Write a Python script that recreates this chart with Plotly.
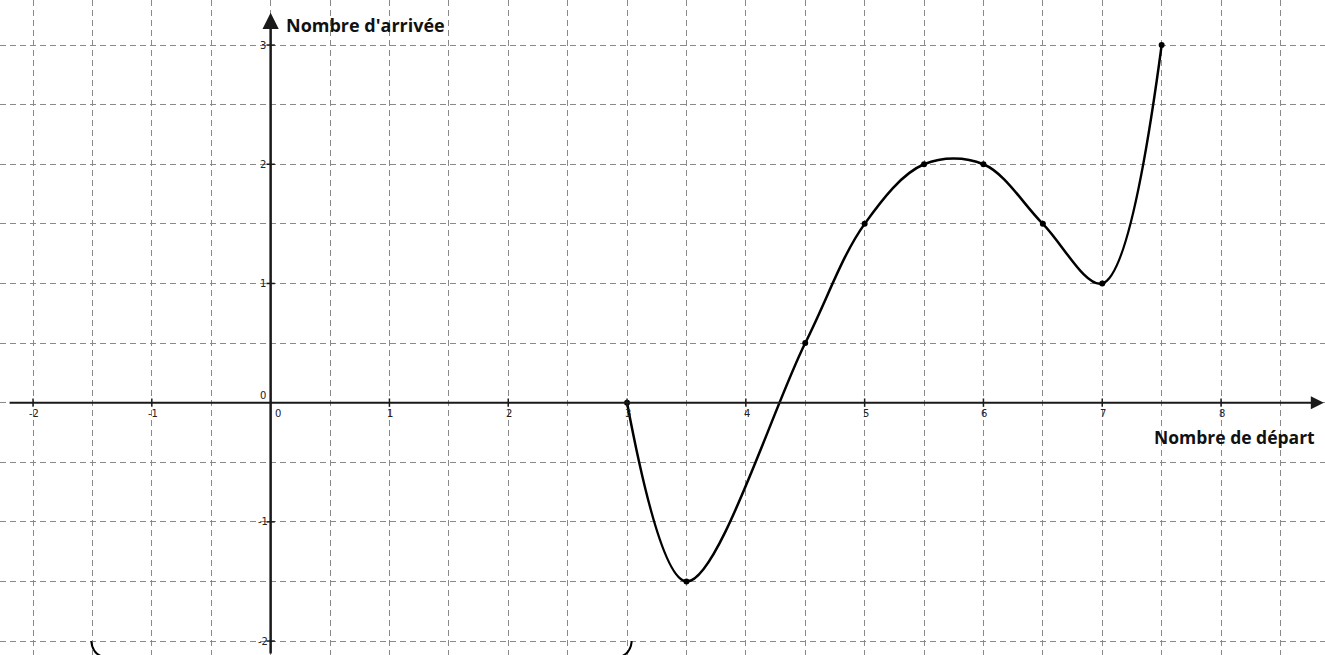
import plotly.graph_objects as go

# Data
x_pts = [3, 3.5, 4.5, 5, 5.5, 6, 6.5, 7, 7.5]
y_pts = [0, -1.5, 0.5, 1.5, 2, 2, 1.5, 1, 3]
x_ticks = [-2, -1, 0, 1, 2, 3, 4, 5, 6, 7, 8]
y_ticks = [-2, -1, 0, 1, 2, 3]
bracket_x = [-1.5, 3]
bracket_y = -2
x_label = "Nombre de départ"
y_label = "Nombre d'arrivée"

X_RANGE = [-2.278, 8.875]
Y_RANGE = [-2.117, 3.378]
AXIS_COLOR = "#1a1a1a"
GRID_COLOR = "#8a8a8a"

fig = go.Figure()

# curve
fig.add_trace(go.Scatter(
    x=x_pts, y=y_pts, mode="lines+markers",
    line=dict(color="black", width=2.5, shape="spline", smoothing=1.0),
    marker=dict(color="black", size=6),
    hoverinfo="skip", showlegend=False,
))

# tick marks on axes
fig.add_trace(go.Scatter(
    x=[v for v in x_ticks if v != 0], y=[0] * (len(x_ticks) - 1), mode="markers",
    marker=dict(symbol="line-ns", size=6, line=dict(color=AXIS_COLOR, width=1.5)),
    hoverinfo="skip", showlegend=False,
))
fig.add_trace(go.Scatter(
    x=[0] * (len(y_ticks) - 1), y=[v for v in y_ticks if v != 0], mode="markers",
    marker=dict(symbol="line-ew", size=6, line=dict(color=AXIS_COLOR, width=1.5)),
    hoverinfo="skip", showlegend=False,
))

annotations = []
# axes with arrows
annotations.append(dict(x=8.865, y=0, ax=-2.21, ay=0, xref="x", yref="y", axref="x", ayref="y",
                        showarrow=True, arrowhead=2, arrowsize=1.3, arrowwidth=2,
                        arrowcolor=AXIS_COLOR, text=""))
annotations.append(dict(x=0, y=3.27, ax=0, ay=Y_RANGE[0], xref="x", yref="y", axref="x", ayref="y",
                        showarrow=True, arrowhead=2, arrowsize=1.3, arrowwidth=2.5,
                        arrowcolor=AXIS_COLOR, text=""))

# tick labels
for v in x_ticks:
    annotations.append(dict(x=v, y=0, xref="x", yref="y", text=str(v), showarrow=False,
                            font=dict(size=10, color="#222", family="DejaVu Sans"),
                            yshift=-11, xshift=7 if v == 0 else 1))
for v in y_ticks:
    annotations.append(dict(x=0, y=v, xref="x", yref="y", text=str(v), showarrow=False,
                            font=dict(size=10, color="#222", family="DejaVu Sans"),
                            xshift=-8, yshift=7 if v == 0 else 0))

# axis titles
annotations.append(dict(x=0.115, y=3.17, xref="x", yref="y", text=y_label, showarrow=False,
                        xanchor="left", yanchor="middle",
                        font=dict(size=18, color="#111", family="Open Sans", weight="bold")))
annotations.append(dict(x=8.81, y=-0.289, xref="x", yref="y", text=x_label, showarrow=False,
                        xanchor="right", yanchor="middle",
                        font=dict(size=17.5, color="#111", family="Open Sans", weight="bold")))

# bracket ends at the bottom
bl, br = bracket_x
shapes = [
    dict(type="path", xref="x", yref="y",
         path=f"M {bl - 0.01},{bracket_y} Q {bl},{bracket_y - 0.1} {bl + 0.08},{bracket_y - 0.13}",
         line=dict(color="black", width=2)),
    dict(type="path", xref="x", yref="y",
         path=f"M {br + 0.04},{bracket_y} Q {br + 0.03},{bracket_y - 0.1} {br - 0.05},{bracket_y - 0.13}",
         line=dict(color="black", width=2)),
]

fig.update_layout(
    width=1325, height=655,
    margin=dict(l=0, r=0, t=0, b=0),
    paper_bgcolor="white", plot_bgcolor="white",
    annotations=annotations, shapes=shapes,
    xaxis=dict(range=X_RANGE, dtick=0.5, tick0=0, showgrid=True, gridcolor=GRID_COLOR,
               griddash="6px,4px", gridwidth=1, zeroline=False, showticklabels=False,
               showline=False, fixedrange=True),
    yaxis=dict(range=Y_RANGE, dtick=0.5, tick0=0, showgrid=True, gridcolor=GRID_COLOR,
               griddash="6px,4px", gridwidth=1, zeroline=False, showticklabels=False,
               showline=False, fixedrange=True),
)

fig.write_html(
    "out.html",
    config={"displayModeBar": False},
    post_script="document.body.style.margin='0px';document.body.style.overflow='hidden';",
)
